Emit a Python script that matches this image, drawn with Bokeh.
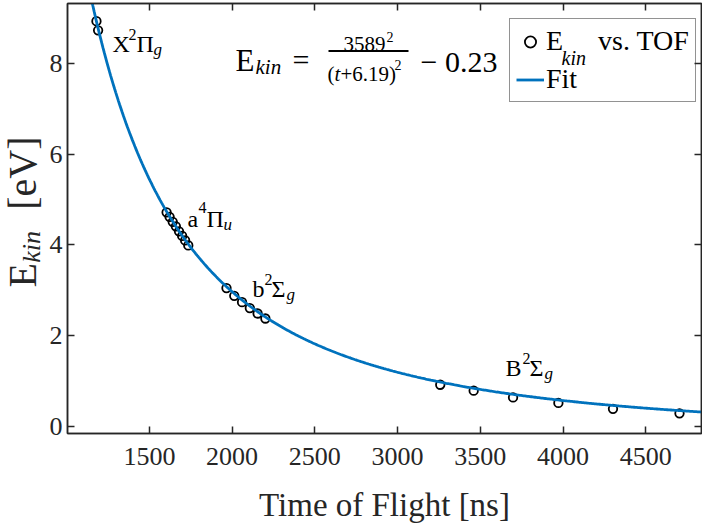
import numpy as np
from bokeh.plotting import figure
from bokeh.layouts import row
from bokeh.models import (Range1d, LinearAxis, FixedTicker, Label, Legend,
                          LegendItem, BoxAnnotation)
from bokeh.embed import file_html
from bokeh.resources import INLINE

# ---------------- data ----------------
x2pig_tof = [1180, 1190]
x2pig_e = [8.93, 8.73]
a4piu_tof = [1604, 1622, 1641, 1660, 1679, 1698, 1716, 1735]
a4piu_e = [4.72, 4.62, 4.51, 4.41, 4.30, 4.20, 4.10, 3.99]
b2sg_tof = [1966, 2013, 2060, 2107, 2154, 2201]
b2sg_e = [3.05, 2.88, 2.74, 2.61, 2.49, 2.38]
B2sg_tof = [3258, 3460, 3698, 3972, 4302, 4704]
B2sg_e = [0.92, 0.79, 0.64, 0.52, 0.39, 0.29]

# fit parameters as printed in the chart: E = A^2/(t+t0)^2 + c
fit_a = 3589
fit_t0 = 6.19
fit_c = -0.23

x_ticks = [1500, 2000, 2500, 3000, 3500, 4000, 4500]
y_ticks = [0, 2, 4, 6, 8]

tof = x2pig_tof + a4piu_tof + b2sg_tof + B2sg_tof
ekin = x2pig_e + a4piu_e + b2sg_e + B2sg_e

X0, X1 = 1005, 4837
Y0, Y1 = -0.154, 9.32
fit_t = np.linspace(X0, X1, 500)
fit_e = fit_a ** 2 / (fit_t + fit_t0) ** 2 + fit_c

# ---------------- layout helpers (pixel -> data for text placement) ----------------
LW = 46                      # width of the strip that holds the y-axis title
H = 530
FL, FW, FT, FH = 67, 634, 3, 430


def dx(px):
    return X0 + (px - FL) / FW * (X1 - X0)


def dy(py):
    return Y1 - (py - FT) / FH * (Y1 - Y0)


AX = "#262626"
FONT = "Liberation Serif"

p = figure(width=702 - LW, height=H, x_range=Range1d(X0, X1), y_range=Range1d(Y0, Y1),
           output_backend="svg", toolbar_location=None,
           min_border_left=FL - LW, min_border_right=1, min_border_top=FT, min_border_bottom=97,
           background_fill_color="white", border_fill_color="white",
           outline_line_color=AX, outline_line_width=1.5)
p.xgrid.visible = False
p.ygrid.visible = False


def style_axis(ax, ticks):
    ax.ticker = FixedTicker(ticks=ticks)
    ax.axis_line_color = AX
    ax.axis_line_width = 1.5
    ax.major_tick_line_color = AX
    ax.major_tick_line_width = 1.5
    ax.major_tick_in = 7
    ax.major_tick_out = 0
    ax.minor_tick_line_color = None
    ax.major_label_text_font = FONT
    ax.major_label_text_font_size = "26px"
    ax.major_label_text_color = AX


xa = p.xaxis[0]
ya = p.yaxis[0]
style_axis(xa, x_ticks)
style_axis(ya, y_ticks)
xa.major_label_standoff = 14
ya.major_label_standoff = 5
xa.axis_label = "Time of Flight [ns]"
xa.axis_label_text_font = FONT
xa.axis_label_text_font_size = "33px"
xa.axis_label_text_font_style = "normal"
xa.axis_label_text_color = AX
xa.axis_label_standoff = 19

top = LinearAxis()
style_axis(top, x_ticks)
top.major_label_overrides = {t: "" for t in x_ticks}
top.major_label_standoff = 0
p.add_layout(top, "above")
right = LinearAxis()
style_axis(right, y_ticks)
right.major_label_overrides = {t: "" for t in y_ticks}
right.major_label_standoff = 0
p.add_layout(right, "right")

sc = p.scatter(tof, ekin, marker="circle", size=8.5, fill_color=None,
               line_color="black", line_width=1.8)
ln = p.line(fit_t, fit_e, line_color="#0072BD", line_width=2.8)

legend = Legend(items=[LegendItem(label="E\u00a0\u00a0\u00a0\u00a0\u00a0vs. TOF", renderers=[sc]),
                       LegendItem(label="Fit", renderers=[ln])],
                location=(442, 331), padding=6, spacing=6, margin=0,
                glyph_width=28, glyph_height=31, label_height=31, label_standoff=2,
                label_text_font=FONT, label_text_font_size="28px", label_text_color="black",
                border_line_color=AX, border_line_width=1.5,
                background_fill_color="white", background_fill_alpha=0.0)
p.add_layout(legend)


def lab(text, px, py, size, italic=False, color="black"):
    p.add_layout(Label(x=dx(px), y=dy(py), text=text, text_font=FONT,
                       text_font_size=f"{size}px",
                       text_font_style="italic" if italic else "normal",
                       text_align="left", text_baseline="alphabetic",
                       text_color=color, level="overlay"))


# legend subscript
lab("kin", 561, 57, 20, italic=True)

# formula
lab("E", 235, 60, 31)
lab("kin", 255, 66, 21, italic=True)
lab("=", 292, 59, 30)
lab("3589", 343, 43, 21)
lab("2", 386, 36, 14)
p.add_layout(BoxAnnotation(left=dx(328), right=dx(408), top=dy(49.5), bottom=dy(51.5),
                           fill_color="black", fill_alpha=1.0, line_color=None))
lab("(", 327, 73, 21)
lab("t", 334, 73, 21, italic=True)
lab("+6.19)", 340, 73, 21)
lab("2", 394, 64, 14)
lab("\u2212 0.23", 420, 61, 30)

# state annotations
lab("X", 112, 43, 24)
lab("2", 128, 34, 16)
lab("\u03a0", 136, 43, 24)
lab("g", 153, 49, 17, italic=True)

lab("a", 187, 218, 24)
lab("4", 198, 207, 16)
lab("\u03a0", 206, 218, 24)
lab("u", 223, 224, 17, italic=True)

lab("b", 252, 288, 24)
lab("2", 264, 279, 16)
lab("\u03a3", 271, 288, 24)
lab("g", 286, 294, 17, italic=True)

lab("B", 505, 367, 24)
lab("2", 522, 358, 16)
lab("\u03a3", 529, 367, 24)
lab("g", 544, 373, 17, italic=True)

# ---------------- strip holding the rotated y-axis title ----------------
lf = figure(width=LW, height=H, x_range=Range1d(0, LW), y_range=Range1d(0, H),
            output_backend="svg", toolbar_location=None,
            x_axis_location=None, y_axis_location=None,
            min_border_left=0, min_border_right=0, min_border_top=0, min_border_bottom=0,
            outline_line_color=None, background_fill_color="white", border_fill_color="white")
for g in lf.grid:
    g.visible = False


def ylab(text, cx, cy, size, italic=False):
    lf.add_layout(Label(x=cx, y=H - cy, text=text, text_font=FONT, text_font_size=f"{size}px",
                        text_font_style="italic" if italic else "normal",
                        text_align="center", text_baseline="middle",
                        angle=np.pi / 2, text_color=AX))


ylab("E", 22, 335, 40)
ylab("kin", 31, 300, 26, italic=True)
ylab("[eV]", 22, 209, 40)

layout = row(lf, p)
open("out.html", "w").write(file_html(layout, INLINE))
